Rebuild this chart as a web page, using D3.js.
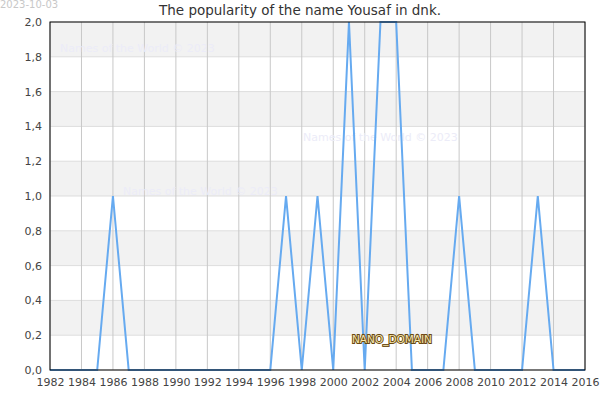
<!DOCTYPE html>
<html>
<head>
<meta charset="utf-8">
<script src="https://cdn.jsdelivr.net/npm/d3@7"></script>
<style>
	body { margin: 0; background: #fff; }
	svg { font-family: 'DejaVu Sans', sans-serif; }
</style>
</head>
<body>
<div id="chart"></div>
<script>
	const years = [1982, 1983, 1984, 1985, 1986, 1987, 1988, 1989, 1990, 1991, 1992, 1993, 1994, 1995, 1996, 1997, 1998, 1999,
		2000, 2001, 2002, 2003, 2004, 2005, 2006, 2007, 2008, 2009, 2010, 2011, 2012, 2013, 2014, 2015, 2016];
	const counts = [0, 0, 0, 0, 1, 0, 0, 0, 0, 0, 0, 0, 0, 0, 0, 1, 0, 1,
		0, 2, 0, 2, 2, 0, 0, 0, 1, 0, 0, 0, 0, 1, 0, 0, 0];
	const xTicks = [1982, 1984, 1986, 1988, 1990, 1992, 1994, 1996, 1998, 2000, 2002, 2004, 2006, 2008, 2010, 2012, 2014, 2016];
	const yTicks = [0, 0.2, 0.4, 0.6, 0.8, 1.0, 1.2, 1.4, 1.6, 1.8, 2.0];
	const titleText = 'The popularity of the name Yousaf in dnk.';
	const dateText = '2023-10-03';
	const watermark = 'Names of the World © 2023';

	const width = 600, height = 400;
	const margin = { top: 22, right: 15, bottom: 30, left: 50 };
	const w = width - margin.left - margin.right;
	const h = height - margin.top - margin.bottom;

	const svg = d3.select('#chart').append('svg')
		.attr('width', width)
		.attr('height', height);

	const x = d3.scaleLinear().domain([1982, 2016]).range([0, w]);
	const y = d3.scaleLinear().domain([0, 2]).range([h, 0]);

	const g = svg.append('g')
		.attr('transform', 'translate(' + margin.left + ',' + margin.top + ')');

	// Alternating bands
	for (let i = 0; i < yTicks.length - 1; i++) {
		if (i % 2 === 1) continue;
		g.append('rect')
			.attr('x', 0)
			.attr('width', w)
			.attr('y', y(yTicks[yTicks.length - 1 - i]))
			.attr('height', y(yTicks[yTicks.length - 2 - i]) - y(yTicks[yTicks.length - 1 - i]))
			.attr('fill', '#f2f2f2');
	}

	// Grid lines
	g.selectAll('line.hgrid').data(yTicks).enter().append('line')
		.attr('x1', 0).attr('x2', w)
		.attr('y1', d => y(d)).attr('y2', d => y(d))
		.attr('stroke', '#dddddd');
	g.selectAll('line.vgrid').data(xTicks).enter().append('line')
		.attr('y1', 0).attr('y2', h)
		.attr('x1', d => x(d)).attr('x2', d => x(d))
		.attr('stroke', '#c8c8c8');

	// Watermarks
	[[10, 30], [253, 119], [73, 173]].forEach(function(p) {
		g.append('text')
			.attr('x', p[0]).attr('y', p[1])
			.style('font-size', '11px')
			.style('fill', '#ececf8')
			.text(watermark);
	});

	// Line
	const line = d3.line()
		.x((d, i) => x(years[i]))
		.y(d => y(d));
	g.append('path')
		.datum(counts)
		.attr('d', line)
		.attr('fill', 'none')
		.attr('stroke', '#66aaf0')
		.attr('stroke-width', 2);

	// Axes
	g.append('g')
		.attr('transform', 'translate(0,' + h + ')')
		.call(d3.axisBottom(x).tickValues(xTicks).tickFormat(d3.format('d')).tickSize(0).tickPadding(8));
	g.append('g')
		.call(d3.axisLeft(y).tickValues(yTicks).tickFormat(d => d.toFixed(1).replace('.', ',')).tickSize(0).tickPadding(8));
	svg.selectAll('.domain').remove();
	svg.selectAll('.tick text').style('font-size', '11px').style('fill', '#444').style('font-family', 'DejaVu Sans, sans-serif');

	// Frame
	g.append('rect')
		.attr('width', w).attr('height', h)
		.attr('fill', 'none')
		.attr('stroke', '#000')
		.attr('stroke-width', 1);

	// Title and date
	svg.append('text')
		.attr('x', 300).attr('y', 15)
		.attr('text-anchor', 'middle')
		.style('font-size', '13.5px')
		.style('fill', '#333')
		.text(titleText);
	svg.append('text')
		.attr('x', 0).attr('y', 8)
		.style('font-size', '10px')
		.style('fill', '#c8c8c8')
		.text(dateText);

	// Domain label
	svg.append('text')
		.attr('x', 352).attr('y', 343)
		.style('font-size', '10.5px')
		.style('fill', '#f5e6b0')
		.style('stroke', '#6b4a10')
		.style('stroke-width', 2)
		.style('paint-order', 'stroke')
		.text('NANO_DOMAIN');
</script>
</body>
</html>
